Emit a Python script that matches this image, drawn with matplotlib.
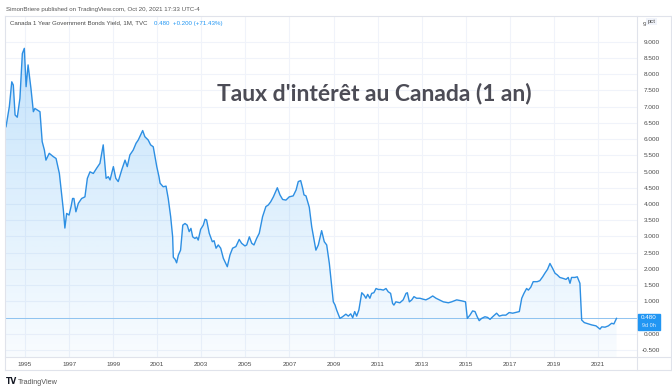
import matplotlib
matplotlib.use("Agg")
import matplotlib.pyplot as plt
import numpy as np
from matplotlib.lines import Line2D
from matplotlib.patches import Rectangle

# ---- data (decimal year, yield in %) ----
dates = [1994.14, 1994.29, 1994.40, 1994.47, 1994.55, 1994.65, 1994.77, 1994.88, 1994.97,
         1995.05, 1995.14, 1995.27, 1995.38, 1995.45, 1995.68, 1995.78, 1995.88, 1995.95,
         1996.10, 1996.28, 1996.41, 1996.56, 1996.74, 1996.81, 1996.89,
         1997.00, 1997.09, 1997.16, 1997.22, 1997.31, 1997.42, 1997.57, 1997.72, 1997.83, 1997.95,
         1998.10, 1998.25, 1998.40, 1998.55, 1998.68, 1998.78, 1998.86,
         1999.01, 1999.12, 1999.23, 1999.39, 1999.54, 1999.64, 1999.76, 1999.91,
         2000.04, 2000.14, 2000.34, 2000.44, 2000.59, 2000.70, 2000.82, 2000.98,
         2001.08, 2001.13, 2001.27, 2001.40, 2001.50, 2001.61, 2001.70, 2001.73, 2001.81, 2001.88, 2001.96,
         2002.06, 2002.16, 2002.26, 2002.36, 2002.45, 2002.53, 2002.61, 2002.71, 2002.79, 2002.86, 2002.97,
         2003.09, 2003.17, 2003.24, 2003.36, 2003.50, 2003.58, 2003.67, 2003.77, 2003.88,
         2004.00, 2004.18, 2004.30, 2004.42, 2004.57, 2004.72, 2004.83, 2004.98,
         2005.06, 2005.18, 2005.29, 2005.39, 2005.51, 2005.63, 2005.78, 2005.93,
         2006.04, 2006.15, 2006.27, 2006.45, 2006.57, 2006.69, 2006.84, 2006.99,
         2007.17, 2007.30, 2007.40, 2007.51, 2007.60, 2007.66, 2007.75, 2007.90,
         2008.01, 2008.20, 2008.31, 2008.46, 2008.58, 2008.69, 2008.81, 2008.92, 2008.99,
         2009.07, 2009.14, 2009.29, 2009.41, 2009.56, 2009.67, 2009.78, 2009.87, 2009.96,
         2010.05, 2010.15, 2010.28, 2010.38, 2010.47, 2010.55, 2010.65, 2010.73, 2010.83, 2010.93,
         2011.03, 2011.14, 2011.26, 2011.38, 2011.48, 2011.59, 2011.68, 2011.74, 2011.83,
         2012.01, 2012.16, 2012.29, 2012.35, 2012.44, 2012.55, 2012.65, 2012.77, 2012.92,
         2013.07, 2013.19, 2013.34, 2013.50, 2013.65, 2013.80, 2013.98,
         2014.21, 2014.36, 2014.59, 2014.81, 2014.99,
         2015.07, 2015.19, 2015.31, 2015.42, 2015.52, 2015.61, 2015.72, 2015.87, 2015.99,
         2016.10, 2016.22, 2016.40, 2016.52, 2016.67, 2016.82, 2016.97,
         2017.13, 2017.31, 2017.43, 2017.54, 2017.64, 2017.76, 2017.84, 2017.95,
         2018.06, 2018.24, 2018.36, 2018.49, 2018.59, 2018.71, 2018.82, 2018.94,
         2019.05, 2019.15, 2019.27, 2019.42, 2019.55, 2019.65, 2019.73, 2019.80, 2019.95,
         2020.06, 2020.18, 2020.26, 2020.38, 2020.56, 2020.71, 2020.91,
         2021.09, 2021.17, 2021.32, 2021.47, 2021.62, 2021.72, 2021.84]
yields = [6.38, 7.00, 7.76, 7.66, 6.74, 6.67, 7.25, 8.63, 8.79,
          7.61, 8.28, 7.56, 6.84, 6.94, 6.84, 5.92, 5.66, 5.35,
          5.56, 5.46, 5.40, 4.94, 3.82, 3.26, 3.71,
          3.66, 3.92, 4.17, 4.17, 3.76, 4.02, 4.17, 4.22, 4.79, 4.99,
          4.94, 5.10, 5.25, 5.82, 4.79, 4.84, 4.74,
          5.15, 4.79, 4.69, 5.05, 5.35, 5.15, 5.51, 5.66,
          5.87, 5.97, 6.26, 6.07, 5.97, 5.82, 5.76, 5.15,
          4.84, 4.64, 4.53, 4.55, 4.17, 3.61, 2.99, 2.36, 2.30, 2.19, 2.43,
          2.58, 3.35, 3.40, 3.35, 3.15, 3.25, 2.99, 2.94, 2.98, 2.89, 3.22,
          3.35, 3.53, 3.51, 3.10, 2.84, 2.87, 2.64, 2.74, 2.64,
          2.33, 2.07, 2.43, 2.64, 2.69, 2.91, 2.79, 2.71,
          2.74, 2.99, 2.79, 2.74, 2.94, 3.10, 3.61, 3.92,
          3.97, 4.07, 4.22, 4.50, 4.28, 4.14, 4.12, 4.22,
          4.25, 4.43, 4.69, 4.72, 4.48, 4.28, 4.25, 3.90,
          3.30, 2.58, 2.74, 3.18, 2.84, 2.74, 2.17, 1.46, 0.99,
          0.89, 0.74, 0.48, 0.53, 0.61, 0.55, 0.62, 0.50, 0.69,
          0.55, 0.74, 1.27, 1.20, 1.10, 1.22, 1.10, 1.25, 1.27, 1.40,
          1.37, 1.37, 1.35, 1.40, 1.30, 1.25, 0.94, 0.89, 0.99,
          0.96, 1.05, 1.25, 1.27, 0.99, 1.05, 1.15, 1.10, 1.10,
          1.07, 1.05, 1.10, 1.17, 1.10, 1.05, 0.99,
          0.96, 0.99, 1.05, 1.02, 0.99,
          0.48, 0.58, 0.71, 0.69, 0.53, 0.41, 0.48, 0.53, 0.51,
          0.45, 0.53, 0.64, 0.55, 0.58, 0.58, 0.66,
          0.64, 0.67, 0.69, 1.10, 1.25, 1.40, 1.35, 1.44,
          1.61, 1.61, 1.64, 1.76, 1.87, 1.99, 2.17, 2.02,
          1.87, 1.82, 1.74, 1.71, 1.68, 1.74, 1.56, 1.74, 1.74,
          1.76, 1.56, 0.43, 0.35, 0.31, 0.28, 0.25,
          0.15, 0.22, 0.21, 0.25, 0.33, 0.31, 0.48]

year_ticks = list(range(1995, 2022, 2))
price_ticks = [-0.5, 0.0, 0.5, 1.0, 1.5, 2.0, 2.5, 3.0, 3.5, 4.0, 4.5,
               5.0, 5.5, 6.0, 6.5, 7.0, 7.5, 8.0, 8.5, 9.0]

header = "SimonBriere published on TradingView.com, Oct 20, 2021 17:33 UTC-4"
legend_name = "Canada 1 Year Government Bonds Yield, 1M, TVC"
legend_vals = "0.480  +0.200 (+71.43%)"
title = "Taux d'intérêt au Canada (1 an)"
last_value = 0.480
countdown = "9d 0h"

# ---- figure ----
W, H = 672, 391
fig = plt.figure(figsize=(W / 100, H / 100), dpi=100)
fig.patch.set_facecolor("white")

L, R, T, B = 5, 637, 16, 357
ax = fig.add_axes([L / W, 1 - B / H, (R - L) / W, (B - T) / H])
XLIM = (1994.093, 2022.77)
YLIM = (-0.708, 9.785)
ax.set_xlim(*XLIM)
ax.set_ylim(*YLIM)

FONT = "Liberation Sans"
LINE_C = "#2d8fe3"
GRID_C = "#f0f3fa"
TXT_C = "#4a4a4a"

# grid
for yv in price_ticks:
    ax.axhline(yv, color=GRID_C, lw=0.8, zorder=0)
for xv in year_ticks:
    ax.axvline(xv, color=GRID_C, lw=0.8, zorder=0)

# gradient fill under the line
x = np.array(dates)
y = np.array(yields)
ylo = YLIM[0]
poly = ax.fill_between(x, y, ylo, color="none", lw=0)
grad = np.linspace(0, 1, 256).reshape(-1, 1)
rgba = np.zeros((256, 1, 4))
rgba[..., 0] = 33 / 255
rgba[..., 1] = 150 / 255
rgba[..., 2] = 243 / 255
rgba[..., 3] = 0.03 + 0.24 * grad
img = ax.imshow(rgba, extent=[x.min(), x.max(), ylo, 9.0], origin="lower",
                aspect="auto", zorder=1, interpolation="bilinear")
img.set_clip_path(poly.get_paths()[0], transform=ax.transData)
ax.set_xlim(*XLIM)
ax.set_ylim(*YLIM)

ax.plot(x, y, color=LINE_C, lw=1.0, zorder=3, solid_joinstyle="round")
ax.axhline(last_value, color="#8fc3f0", lw=0.7, zorder=2)

# axes cosmetics
for s in ax.spines.values():
    s.set_visible(False)
ax.set_xticks(year_ticks)
ax.set_xticklabels([str(v) for v in year_ticks], fontsize=4.6, color=TXT_C, family=FONT)
ax.tick_params(axis="x", length=0, pad=3.3)
ax.yaxis.tick_right()
ax.set_yticks(price_ticks)
# the 0.500 label is hidden behind the last-value tag in the reference
ax.set_yticklabels(["" if v == 0.5 else f"{v:.3f}" for v in price_ticks],
                   fontsize=4.6, color=TXT_C, family=FONT)
for lbl in ax.get_yticklabels():
    lbl.set_ha("right")
ax.tick_params(axis="y", length=0, pad=16.5)
ax.set_facecolor("white")

# panel borders (figure pixel coords)
BORDER = "#e0e3eb"
def fline(x0, y0, x1, y1, c=BORDER, lw=0.8):
    fig.add_artist(Line2D([x0 / W, x1 / W], [1 - y0 / H, 1 - y1 / H], color=c, lw=lw))
fline(5, 16, 671, 16)
fline(5, 16, 5, 370)
fline(5, B, 671, B)
fline(5, 370, 671, 370)
fline(R, 16, R, 370)
fline(671, 16, 671, 370)

# texts
fig.text(6 / W, 1 - 9.5 / H, header, fontsize=4.45, color="#555555", family=FONT, va="center")
fig.text(10 / W, 1 - 23 / H, legend_name, fontsize=4.45, color="#4a4a4a", family=FONT, va="center")
fig.text(153.5 / W, 1 - 23 / H, legend_vals, fontsize=4.45, color="#2196F3", family=FONT, va="center")
fig.text(374 / W, 1 - 93 / H, title, fontsize=16.5, color="#4c4c56", family="Lato",
         weight="bold", ha="center", va="center")

# price axis unit
fig.text(643 / W, 1 - 24.5 / H, "9", fontsize=4.6, color=TXT_C, family=FONT, va="center")
fig.text(647.5 / W, 1 - 21.5 / H, "pct", fontsize=4.2, color=TXT_C, family=FONT, va="center",
         bbox=dict(boxstyle="square,pad=0.25", fc="#f0f3fa", ec="none"))

# last value label
fig.add_artist(Rectangle((637.5 / W, 1 - 329.5 / H), 22.5 / W, 16 / H,
                         transform=fig.transFigure, color="#2196F3", zorder=5))
fig.text(648.8 / W, 1 - 317.6 / H, f"{last_value:.3f}", fontsize=4.5, color="white",
         family=FONT, ha="center", va="center", zorder=6)
fig.text(648.8 / W, 1 - 325.4 / H, countdown, fontsize=4.0, color="#dcecfc",
         family=FONT, ha="center", va="center", zorder=6)

# footer
fig.text(6 / W, 1 - 382 / H, "TV", fontsize=5.5, color="#131722", family="DejaVu Sans",
         weight="bold", va="center")
fig.text(18 / W, 1 - 382 / H, "TradingView", fontsize=5.2, color="#555555", family=FONT, va="center")

fig.savefig("out.png", dpi=100, facecolor="white")
